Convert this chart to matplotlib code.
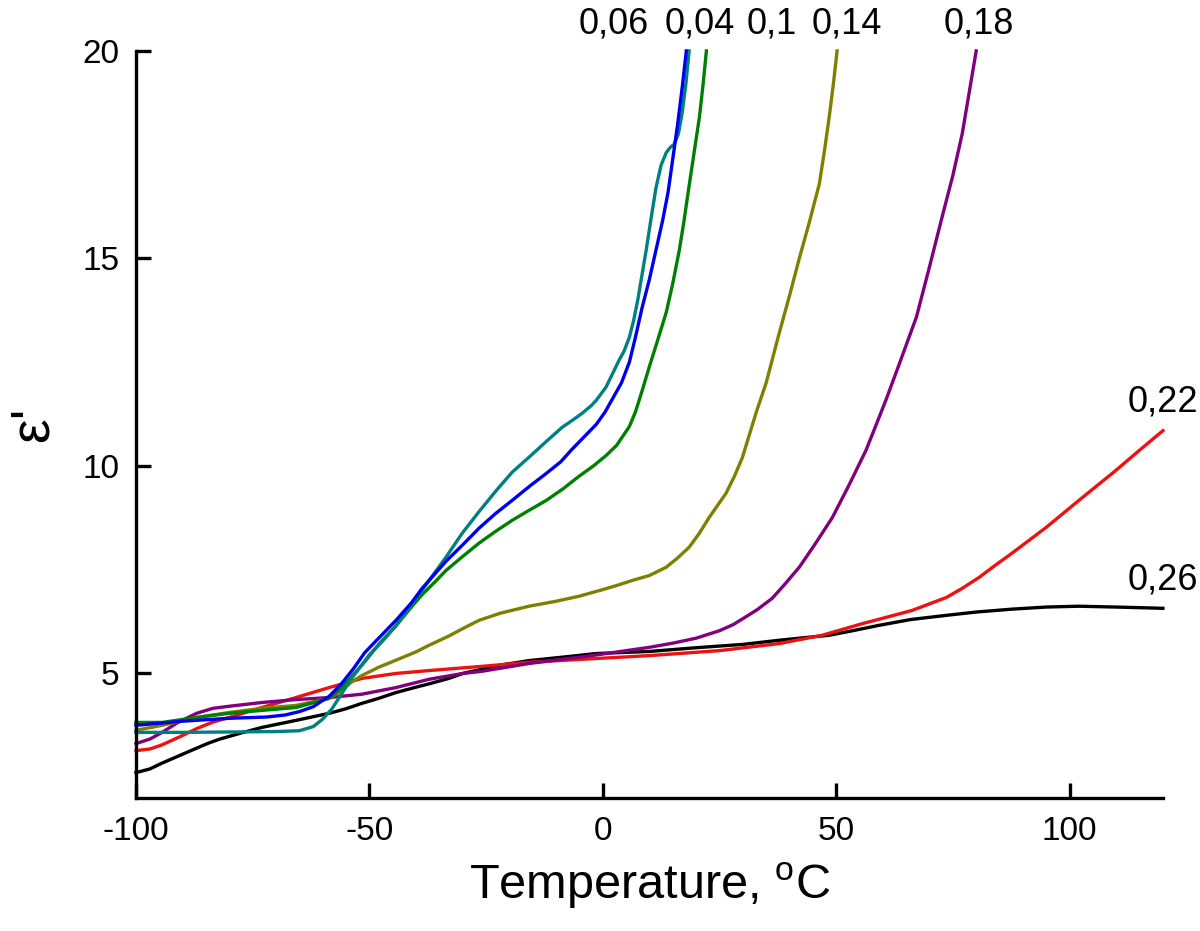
"""
Dielectric permittivity vs temperature for several compositions.
"""

import matplotlib
matplotlib.use("Agg")
import matplotlib.pyplot as plt

plt.rcParams["font.family"] = ["Liberation Sans", "DejaVu Sans"]
plt.rcParams["mathtext.fontset"] = "custom"
plt.rcParams["mathtext.rm"] = "Liberation Sans"
plt.rcParams["mathtext.it"] = "Liberation Sans:italic"

# Curves (temperature in C, permittivity)
x_026 = [-100, -97, -94.4, -90.5, -87, -84.5, -82, -77, -73, -65.7, -58.6, -55, -51.6, -48,
         -44.3, -40, -37.2, -33, -30, -26, -22, -18, -15.8, -8, -1.4, 10, 20, 30, 37.8,
         43, 48.5, 54, 59.2, 66, 73.6, 80, 87.7, 95, 102, 110, 120]
y_026 = [2.61, 2.7, 2.84, 3.03, 3.2, 3.32, 3.42, 3.58, 3.7, 3.87, 4.04, 4.15, 4.28, 4.4,
         4.54, 4.67, 4.75, 4.88, 5.0, 5.1, 5.2, 5.27, 5.31, 5.4, 5.48, 5.53, 5.62, 5.7, 5.8,
         5.86, 5.92, 6.04, 6.16, 6.3, 6.4, 6.48, 6.55, 6.6, 6.62, 6.6, 6.57]

x_022 = [-100, -97, -94.4, -90.5, -87, -83.5, -80, -73, -65.7, -58.6, -51.6, -44.3, -37.2,
         -26, -15.8, -3, 10, 25, 37.8, 47, 51, 55.6, 61, 66.3, 73.6, 77, 80.7, 84, 87.7,
         95, 102, 110, 115, 120]
y_022 = [3.14, 3.18, 3.28, 3.48, 3.67, 3.83, 3.94, 4.18, 4.42, 4.66, 4.88, 5.0, 5.07,
         5.17, 5.27, 5.35, 5.43, 5.55, 5.72, 5.92, 6.05, 6.2, 6.36, 6.52, 6.83, 7.05, 7.32,
         7.6, 7.9, 8.52, 9.17, 9.9, 10.38, 10.85]

x_018 = [-100, -97, -94.4, -91, -87, -83.5, -80, -73, -65.7, -58.6, -51.6, -44.3, -37.2,
         -30, -26, -15.8, -3, 10, 15, 20, 25, 28, 30, 33, 36.3, 39, 42.1, 45.5, 49.2, 52.8,
         56.4, 58.6, 60.7, 63.5, 67.2, 70, 72.7, 75, 77, 80]
y_018 = [3.31, 3.42, 3.58, 3.82, 4.04, 4.16, 4.21, 4.3, 4.37, 4.42, 4.5, 4.66, 4.86,
         5.0, 5.05, 5.24, 5.42, 5.63, 5.73, 5.85, 6.03, 6.18, 6.32, 6.53, 6.81, 7.15, 7.56,
         8.12, 8.76, 9.55, 10.38, 11.0, 11.6, 12.45, 13.59, 14.8, 16.0, 17.0, 18.0, 20.0]

x_014 = [-100, -94.4, -87, -80, -73, -65.7, -58.6, -56, -54, -51.6, -48, -44.3, -40, -37.2,
         -33, -30, -26.5, -22, -18, -15.8, -10, -5.1, 0, 3, 6.3, 10, 13.6, 16, 18.5, 20.7,
         22.8, 24.6, 26.4, 28.2, 29.9, 31.4, 32.9, 35, 36.4, 37.8, 40, 42.1, 44.2, 46.4,
         47.5, 48.5, 49.4, 50.2]
y_014 = [3.63, 3.75, 3.94, 4.06, 4.16, 4.23, 4.4, 4.58, 4.78, 4.95, 5.15, 5.32, 5.52, 5.68,
         5.9, 6.08, 6.28, 6.45, 6.56, 6.62, 6.74, 6.86, 7.02, 7.12, 7.24, 7.36, 7.56, 7.78,
         8.04, 8.38, 8.76, 9.05, 9.34, 9.75, 10.2, 10.75, 11.3, 12.0, 12.6, 13.2, 14.1,
         15.0, 15.85, 16.8, 17.6, 18.4, 19.2, 20.0]

x_004 = [-100, -94.4, -87, -80, -73, -65.7, -58.6, -56, -54, -51.6, -48, -44.3, -41, -38.7,
         -36, -33.6, -30, -26.5, -23, -19.4, -15.8, -12.1, -8.5, -5.1, -2, 0.7, 3, 5.7, 7,
         8.4, 10, 11.4, 12.5, 13.6, 15, 16.4, 17.4, 18.3, 19.5, 20.7, 21.5, 22.2]
y_004 = [3.82, 3.82, 3.94, 4.04, 4.11, 4.18, 4.4, 4.65, 4.9, 5.2, 5.7, 6.15, 6.6, 6.9,
         7.2, 7.48, 7.82, 8.14, 8.42, 8.69, 8.93, 9.17, 9.45, 9.75, 10.0, 10.25, 10.5, 10.95,
         11.3, 11.8, 12.4, 12.9, 13.3, 13.7, 14.4, 15.2, 15.9, 16.6, 17.5, 18.4, 19.2, 20.0]

x_006 = [-100, -90, -80, -72, -68, -65, -62, -60, -58.6, -56, -53.5, -51, -48, -44.3, -41,
         -38.7, -33.6, -30, -26.5, -23, -19.4, -15.8, -12.1, -9, -6.6, -4, -1.4, 0.5, 2.0,
         4, 5.7, 7, 8.4, 10, 11.4, 12.8, 14, 15, 16, 17, 17.9]
y_006 = [3.75, 3.85, 3.92, 3.95, 4.0, 4.08, 4.2, 4.35, 4.45, 4.75, 5.1, 5.5, 5.85, 6.28, 6.7,
         7.05, 7.7, 8.1, 8.5, 8.85, 9.17, 9.5, 9.82, 10.1, 10.4, 10.7, 11.0, 11.3, 11.6,
         12.0, 12.5, 13.1, 13.8, 14.5, 15.2, 15.9, 16.6, 17.4, 18.2, 19.1, 20.0]

x_010 = [-100, -90, -80, -70, -65, -62, -60, -58, -56, -54, -52, -50, -47, -44.3, -41,
         -37.2, -33.6, -30.1, -26.5, -22.8, -19.4, -15.8, -12, -8.7, -6.5, -4.4, -2.5, -1.4,
         0.7, 2.0, 3.5, 4.5, 5.7, 6.6, 7.5, 8.4, 9.3, 10.4, 11.4, 12.5, 13.6, 14.5, 15.3,
         16.2, 17, 17.8, 18.5]
y_010 = [3.58, 3.58, 3.59, 3.6, 3.62, 3.72, 3.9, 4.15, 4.5, 4.85, 5.15, 5.45, 5.8, 6.15,
         6.65, 7.24, 7.8, 8.38, 8.9, 9.41, 9.85, 10.21, 10.6, 10.93, 11.1, 11.27, 11.45,
         11.58, 11.9, 12.2, 12.55, 12.75, 13.1, 13.5, 14.0, 14.6, 15.2, 16.0, 16.7, 17.25,
         17.55, 17.68, 17.75, 18.0, 18.5, 19.2, 20.0]

fig = plt.figure(figsize=(12, 9.31), dpi=100)
ax = fig.add_axes([0.1133, 0.1429, 0.8558, 0.8024])

lw = 2.4
ax.plot(x_026, y_026, color="black", lw=lw, clip_on=False)
ax.plot(x_022, y_022, color="#ee1111", lw=lw, clip_on=False)
ax.plot(x_018, y_018, color="#800080", lw=lw, clip_on=False)
ax.plot(x_014, y_014, color="#808000", lw=lw, clip_on=False)
ax.plot(x_004, y_004, color="#008000", lw=lw, clip_on=False)
ax.plot(x_010, y_010, color="#008080", lw=lw, clip_on=False)
ax.plot(x_006, y_006, color="#0000ee", lw=lw, clip_on=False)

# curve labels
lab_fs = 26
top_labels = ["0,06", "0,04", "0,1", "0,14", "0,18"]
top_x = [2.4, 20.7, 36.1, 52.2, 80.6]
for t, xp in zip(top_labels, top_x):
    ax.text(xp, 20.43, t, fontsize=lab_fs, ha="center", va="baseline", clip_on=False)
ax.text(120, 11.55, "0,22", fontsize=lab_fs, ha="center", va="center", clip_on=False)
ax.text(120, 7.24, "0,26", fontsize=lab_fs, ha="center", va="center", clip_on=False)

ax.set_xlim(-100, 120)
ax.set_ylim(2, 20)
ax.set_xticks([-100, -50, 0, 50, 100])
ax.set_xticklabels(["-100", "-50", "0", "50", "100"])
ax.set_yticks([5, 10, 15, 20])

for s in ["top", "right"]:
    ax.spines[s].set_visible(False)
for s in ["left", "bottom"]:
    ax.spines[s].set_linewidth(2.4)

ax.tick_params(axis="both", direction="in", length=11, width=2.4, labelsize=24)
ax.tick_params(axis="y", pad=12)
ax.tick_params(axis="x", pad=13)

ax.set_xlabel(r"Temperature, $^{\rm o}$C", fontsize=35, labelpad=10)
ax.set_ylabel("ε'", fontsize=40, labelpad=16)

plt.savefig("out.png", dpi=100)
